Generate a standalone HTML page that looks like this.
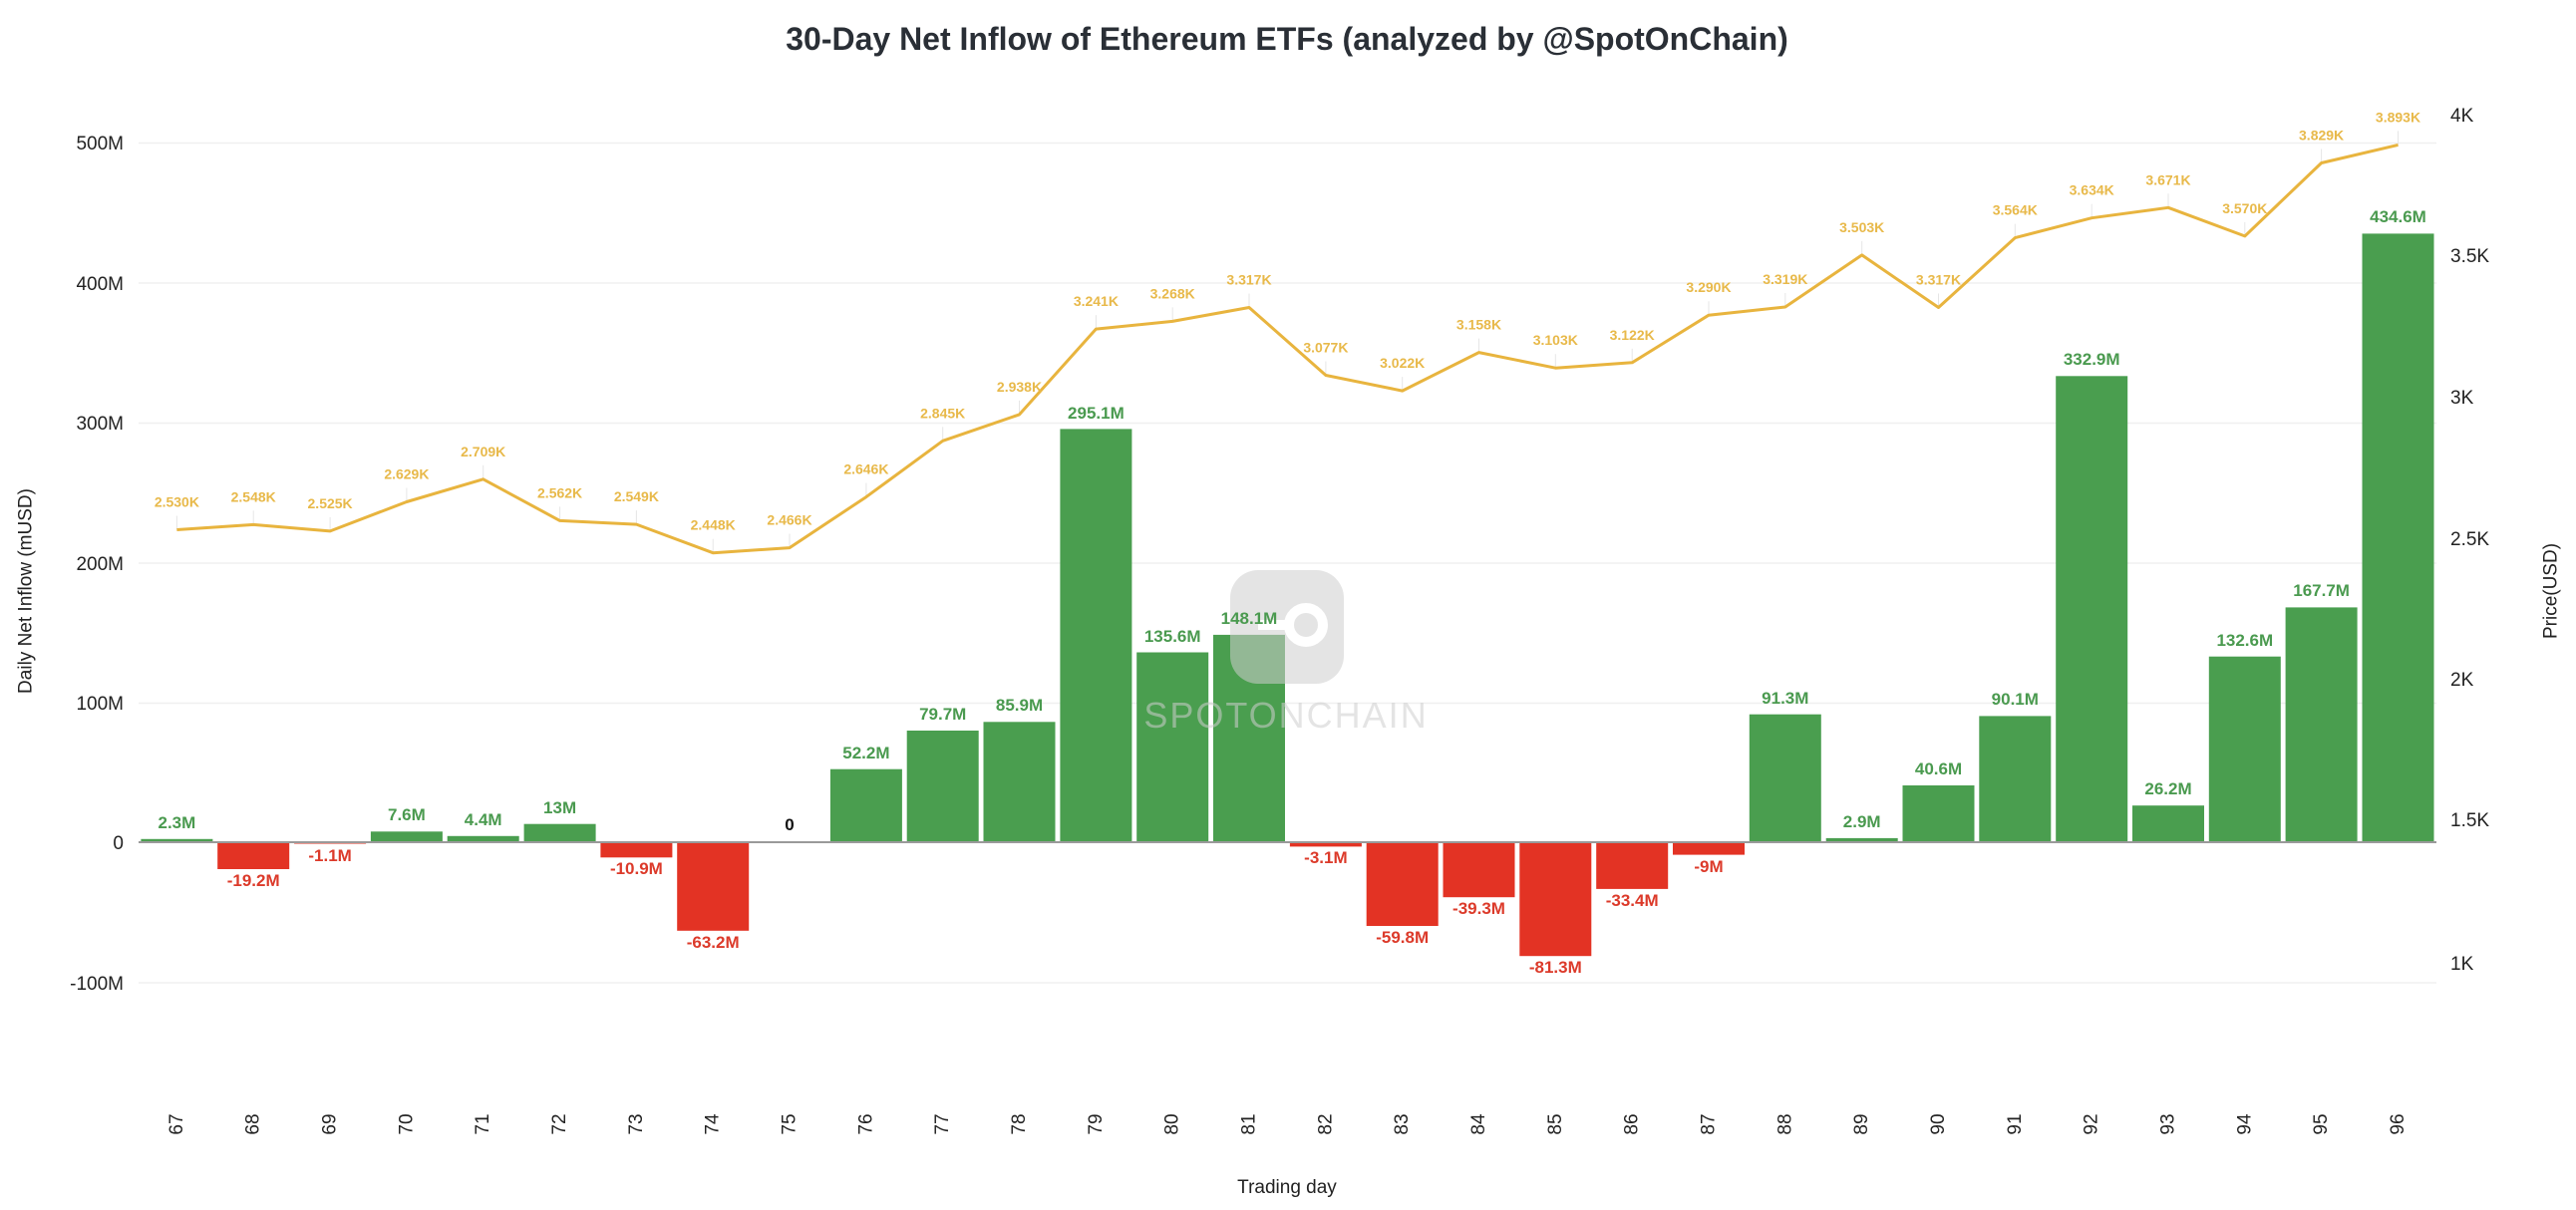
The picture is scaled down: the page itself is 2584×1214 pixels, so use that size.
<!DOCTYPE html>
<html><head><meta charset="utf-8"><style>
html,body{margin:0;padding:0;background:#fff}
svg{display:block}
text{font-family:"Liberation Sans",Arial,sans-serif}
.yl{font-size:19px;fill:#222;text-anchor:end}
.yr{font-size:19px;fill:#222;text-anchor:start}
.xl{font-size:19px;fill:#222;text-anchor:middle;dominant-baseline:central}
.g{font-size:17px;font-weight:bold;fill:#4a9a4f;text-anchor:middle}
.r{font-size:17px;font-weight:bold;fill:#dc3a2a;text-anchor:middle}
.p{font-size:14px;font-weight:bold;fill:#e8b94a;text-anchor:middle}
.gb{fill:#4a9e4f}.rb{fill:#e33324}
.ld{stroke:#e6e6e6;stroke-width:1}
</style></head><body>
<svg width="2584" height="1214" viewBox="0 0 2584 1214" xmlns="http://www.w3.org/2000/svg">
<text x="1291" y="50" text-anchor="middle" style="font-size:32px;font-weight:bold;fill:#2a2f36">30-Day Net Inflow of Ethereum ETFs (analyzed by @SpotOnChain)</text>
<g stroke="#f0f0f0" stroke-width="1.5">
<line x1="139" x2="2444" y1="143.5" y2="143.5"/><line x1="139" x2="2444" y1="284" y2="284"/><line x1="139" x2="2444" y1="424.5" y2="424.5"/><line x1="139" x2="2444" y1="565" y2="565"/><line x1="139" x2="2444" y1="705.5" y2="705.5"/><line x1="139" x2="2444" y1="986" y2="986"/>
</g>
<g class="yl"><text x="124" y="150">500M</text><text x="124" y="291">400M</text><text x="124" y="431">300M</text><text x="124" y="572">200M</text><text x="124" y="712">100M</text><text x="124" y="852">0</text><text x="124" y="993">-100M</text></g>
<g class="yr"><text x="2458" y="122">4K</text><text x="2458" y="263">3.5K</text><text x="2458" y="405">3K</text><text x="2458" y="547">2.5K</text><text x="2458" y="688">2K</text><text x="2458" y="829">1.5K</text><text x="2458" y="973">1K</text></g>
<text transform="rotate(-90 26 593)" x="26" y="593" text-anchor="middle" dominant-baseline="central" style="font-size:19px;fill:#222">Daily Net Inflow (mUSD)</text>
<text transform="rotate(-90 2559 593)" x="2559" y="593" text-anchor="middle" dominant-baseline="central" style="font-size:19px;fill:#222">Price(USD)</text>
<text x="1291" y="1197" text-anchor="middle" style="font-size:19px;fill:#222">Trading day</text>
<!-- bars -->
<rect class="gb" x="141.4" y="841.8" width="72" height="3.2"/>
<rect class="rb" x="218.2" y="845" width="72" height="27"/>
<rect class="rb" x="295.1" y="845" width="72" height="1.5"/>
<rect class="gb" x="371.9" y="834.3" width="72" height="10.7"/>
<rect class="gb" x="448.7" y="838.8" width="72" height="6.2"/>
<rect class="gb" x="525.6" y="826.7" width="72" height="18.3"/>
<rect class="rb" x="602.4" y="845" width="72" height="15.3"/>
<rect class="rb" x="679.2" y="845" width="72" height="88.8"/>
<rect class="gb" x="832.9" y="771.7" width="72" height="73.3"/>
<rect class="gb" x="909.7" y="733" width="72" height="112"/>
<rect class="gb" x="986.5" y="724.3" width="72" height="120.7"/>
<rect class="gb" x="1063.4" y="430.4" width="72" height="414.6"/>
<rect class="gb" x="1140.2" y="654.5" width="72" height="190.5"/>
<rect class="gb" x="1217" y="636.9" width="72" height="208.1"/>
<rect class="rb" x="1293.9" y="845" width="72" height="4.4"/>
<rect class="rb" x="1370.7" y="845" width="72" height="84"/>
<rect class="rb" x="1447.5" y="845" width="72" height="55.2"/>
<rect class="rb" x="1524.3" y="845" width="72" height="114.2"/>
<rect class="rb" x="1601.2" y="845" width="72" height="46.9"/>
<rect class="rb" x="1678" y="845" width="72" height="12.6"/>
<rect class="gb" x="1754.8" y="716.7" width="72" height="128.3"/>
<rect class="gb" x="1831.7" y="840.9" width="72" height="4.1"/>
<rect class="gb" x="1908.5" y="788" width="72" height="57"/>
<rect class="gb" x="1985.3" y="718.4" width="72" height="126.6"/>
<rect class="gb" x="2062.2" y="377.3" width="72" height="467.7"/>
<rect class="gb" x="2139" y="808.2" width="72" height="36.8"/>
<rect class="gb" x="2215.8" y="658.7" width="72" height="186.3"/>
<rect class="gb" x="2292.6" y="609.4" width="72" height="235.6"/>
<rect class="gb" x="2369.5" y="234.4" width="72" height="610.6"/>
<line x1="139" x2="2444" y1="845" y2="845" stroke="#9a9a9a" stroke-width="2"/>
<!-- watermark -->
<g opacity="0.55">
<rect x="1234" y="572" width="114" height="114" rx="28" fill="#cfcfcf"/>
<circle cx="1310" cy="627" r="17" fill="none" stroke="#fff" stroke-width="10"/>
<path d="M1262 627 h30" stroke="#fff" stroke-width="10"/>
<text x="1290" y="730" text-anchor="middle" style="font-size:36px;fill:#cfcfcf;letter-spacing:2px">SPOTONCHAIN</text>
</g>
<!-- bar labels -->
<text class="g" x="177.4" y="831">2.3M</text>
<text class="r" x="254.2" y="889">-19.2M</text>
<text class="r" x="331.1" y="864">-1.1M</text>
<text class="g" x="407.9" y="823">7.6M</text>
<text class="g" x="484.7" y="828">4.4M</text>
<text class="g" x="561.6" y="816">13M</text>
<text class="r" x="638.4" y="877">-10.9M</text>
<text class="r" x="715.2" y="951">-63.2M</text>
<text x="792" y="833" text-anchor="middle" style="font-size:17px;font-weight:bold;fill:#111">0</text>
<text class="g" x="868.9" y="761">52.2M</text>
<text class="g" x="945.7" y="722">79.7M</text>
<text class="g" x="1022.5" y="713">85.9M</text>
<text class="g" x="1099.4" y="420">295.1M</text>
<text class="g" x="1176.2" y="644">135.6M</text>
<text class="g" x="1253" y="626">148.1M</text>
<text class="r" x="1329.9" y="866">-3.1M</text>
<text class="r" x="1406.7" y="946">-59.8M</text>
<text class="r" x="1483.5" y="917">-39.3M</text>
<text class="r" x="1560.3" y="976">-81.3M</text>
<text class="r" x="1637.2" y="909">-33.4M</text>
<text class="r" x="1714" y="875">-9M</text>
<text class="g" x="1790.8" y="706">91.3M</text>
<text class="g" x="1867.7" y="830">2.9M</text>
<text class="g" x="1944.5" y="777">40.6M</text>
<text class="g" x="2021.3" y="707">90.1M</text>
<text class="g" x="2098.2" y="366">332.9M</text>
<text class="g" x="2175" y="797">26.2M</text>
<text class="g" x="2251.8" y="648">132.6M</text>
<text class="g" x="2328.6" y="598">167.7M</text>
<text class="g" x="2405.5" y="223">434.6M</text>
<!-- price leaders -->
<g class="ld">
<line x1="177.4" x2="177.4" y1="517.5" y2="531.5"/><line x1="254.2" x2="254.2" y1="512.4" y2="526.4"/><line x1="331.1" x2="331.1" y1="518.9" y2="532.9"/><line x1="407.9" x2="407.9" y1="489.5" y2="503.5"/><line x1="484.7" x2="484.7" y1="466.8" y2="480.8"/><line x1="561.6" x2="561.6" y1="508.4" y2="522.4"/><line x1="638.4" x2="638.4" y1="512.1" y2="526.1"/><line x1="715.2" x2="715.2" y1="540.7" y2="554.7"/><line x1="792" x2="792" y1="535.6" y2="549.6"/><line x1="868.9" x2="868.9" y1="484.6" y2="498.6"/><line x1="945.7" x2="945.7" y1="428.3" y2="442.3"/><line x1="1022.5" x2="1022.5" y1="401.9" y2="415.9"/><line x1="1099.4" x2="1099.4" y1="316.1" y2="330.1"/><line x1="1176.2" x2="1176.2" y1="308.4" y2="322.4"/><line x1="1253" x2="1253" y1="294.5" y2="308.5"/><line x1="1329.9" x2="1329.9" y1="362.5" y2="376.5"/><line x1="1406.7" x2="1406.7" y1="378.1" y2="392.1"/><line x1="1483.5" x2="1483.5" y1="339.6" y2="353.6"/><line x1="1560.3" x2="1560.3" y1="355.2" y2="369.2"/><line x1="1637.2" x2="1637.2" y1="349.8" y2="363.8"/><line x1="1714" x2="1714" y1="302.2" y2="316.2"/><line x1="1790.8" x2="1790.8" y1="294" y2="308"/><line x1="1867.7" x2="1867.7" y1="241.9" y2="255.9"/><line x1="1944.5" x2="1944.5" y1="294.5" y2="308.5"/><line x1="2021.3" x2="2021.3" y1="224.6" y2="238.6"/><line x1="2098.2" x2="2098.2" y1="204.7" y2="218.7"/><line x1="2175" x2="2175" y1="194.3" y2="208.3"/><line x1="2251.8" x2="2251.8" y1="222.9" y2="236.9"/><line x1="2328.6" x2="2328.6" y1="149.5" y2="163.5"/><line x1="2405.5" x2="2405.5" y1="131.4" y2="145.4"/>
</g>
<polyline fill="none" stroke="#e8b43e" stroke-width="3" stroke-linejoin="round" points="177.4,531.5 254.2,526.4 331.1,532.9 407.9,503.5 484.7,480.8 561.6,522.4 638.4,526.1 715.2,554.7 792,549.6 868.9,498.6 945.7,442.3 1022.5,415.9 1099.4,330.1 1176.2,322.4 1253,308.5 1329.9,376.5 1406.7,392.1 1483.5,353.6 1560.3,369.2 1637.2,363.8 1714,316.2 1790.8,308 1867.7,255.9 1944.5,308.5 2021.3,238.6 2098.2,218.7 2175,208.3 2251.8,236.9 2328.6,163.5 2405.5,145.4"/>
<!-- price labels -->
<text class="p" x="177.4" y="508.5">2.530K</text>
<text class="p" x="254.2" y="503.4">2.548K</text>
<text class="p" x="331.1" y="509.9">2.525K</text>
<text class="p" x="407.9" y="480.5">2.629K</text>
<text class="p" x="484.7" y="457.8">2.709K</text>
<text class="p" x="561.6" y="499.4">2.562K</text>
<text class="p" x="638.4" y="503.1">2.549K</text>
<text class="p" x="715.2" y="531.7">2.448K</text>
<text class="p" x="792" y="526.6">2.466K</text>
<text class="p" x="868.9" y="475.6">2.646K</text>
<text class="p" x="945.7" y="419.3">2.845K</text>
<text class="p" x="1022.5" y="392.9">2.938K</text>
<text class="p" x="1099.4" y="307.1">3.241K</text>
<text class="p" x="1176.2" y="299.4">3.268K</text>
<text class="p" x="1253" y="285.5">3.317K</text>
<text class="p" x="1329.9" y="353.5">3.077K</text>
<text class="p" x="1406.7" y="369.1">3.022K</text>
<text class="p" x="1483.5" y="330.6">3.158K</text>
<text class="p" x="1560.3" y="346.2">3.103K</text>
<text class="p" x="1637.2" y="340.8">3.122K</text>
<text class="p" x="1714" y="293.2">3.290K</text>
<text class="p" x="1790.8" y="285">3.319K</text>
<text class="p" x="1867.7" y="232.9">3.503K</text>
<text class="p" x="1944.5" y="285.5">3.317K</text>
<text class="p" x="2021.3" y="215.6">3.564K</text>
<text class="p" x="2098.2" y="195.7">3.634K</text>
<text class="p" x="2175" y="185.3">3.671K</text>
<text class="p" x="2251.8" y="213.9">3.570K</text>
<text class="p" x="2328.6" y="140.5">3.829K</text>
<text class="p" x="2405.5" y="122.4">3.893K</text>
<!-- x labels -->
<g class="xl">
<text x="177.4" y="1128" transform="rotate(-90 177.4 1128)">67</text>
<text x="254.2" y="1128" transform="rotate(-90 254.2 1128)">68</text>
<text x="331.1" y="1128" transform="rotate(-90 331.1 1128)">69</text>
<text x="407.9" y="1128" transform="rotate(-90 407.9 1128)">70</text>
<text x="484.7" y="1128" transform="rotate(-90 484.7 1128)">71</text>
<text x="561.6" y="1128" transform="rotate(-90 561.6 1128)">72</text>
<text x="638.4" y="1128" transform="rotate(-90 638.4 1128)">73</text>
<text x="715.2" y="1128" transform="rotate(-90 715.2 1128)">74</text>
<text x="792" y="1128" transform="rotate(-90 792 1128)">75</text>
<text x="868.9" y="1128" transform="rotate(-90 868.9 1128)">76</text>
<text x="945.7" y="1128" transform="rotate(-90 945.7 1128)">77</text>
<text x="1022.5" y="1128" transform="rotate(-90 1022.5 1128)">78</text>
<text x="1099.4" y="1128" transform="rotate(-90 1099.4 1128)">79</text>
<text x="1176.2" y="1128" transform="rotate(-90 1176.2 1128)">80</text>
<text x="1253" y="1128" transform="rotate(-90 1253 1128)">81</text>
<text x="1329.9" y="1128" transform="rotate(-90 1329.9 1128)">82</text>
<text x="1406.7" y="1128" transform="rotate(-90 1406.7 1128)">83</text>
<text x="1483.5" y="1128" transform="rotate(-90 1483.5 1128)">84</text>
<text x="1560.3" y="1128" transform="rotate(-90 1560.3 1128)">85</text>
<text x="1637.2" y="1128" transform="rotate(-90 1637.2 1128)">86</text>
<text x="1714" y="1128" transform="rotate(-90 1714 1128)">87</text>
<text x="1790.8" y="1128" transform="rotate(-90 1790.8 1128)">88</text>
<text x="1867.7" y="1128" transform="rotate(-90 1867.7 1128)">89</text>
<text x="1944.5" y="1128" transform="rotate(-90 1944.5 1128)">90</text>
<text x="2021.3" y="1128" transform="rotate(-90 2021.3 1128)">91</text>
<text x="2098.2" y="1128" transform="rotate(-90 2098.2 1128)">92</text>
<text x="2175" y="1128" transform="rotate(-90 2175 1128)">93</text>
<text x="2251.8" y="1128" transform="rotate(-90 2251.8 1128)">94</text>
<text x="2328.6" y="1128" transform="rotate(-90 2328.6 1128)">95</text>
<text x="2405.5" y="1128" transform="rotate(-90 2405.5 1128)">96</text>
</g>
</svg>
</body></html>
